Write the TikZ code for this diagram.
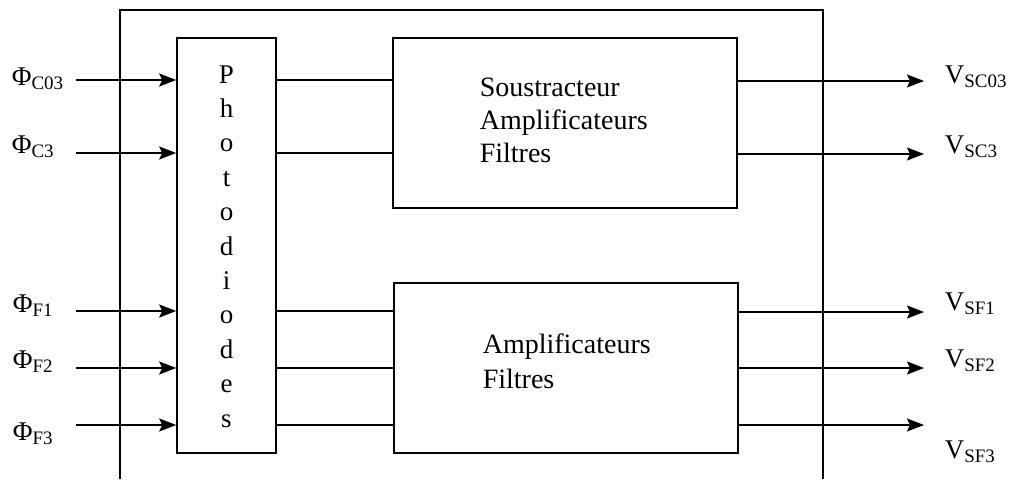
\documentclass[tikz,border=0pt]{standalone}
\usepackage{fontspec}
\setmainfont{Liberation Serif}
\usetikzlibrary{arrows.meta}
\newcommand{\sublbl}[2]{{\fontsize{27}{27}\selectfont #1}\raisebox{-4pt}{\fontsize{19}{19}\selectfont #2}}
\begin{document}
\begin{tikzpicture}[x=1pt,y=-1pt, line width=1.6pt,
  blk/.style={draw, rectangle, inner sep=0pt},
  arr/.style={-{Stealth[length=17pt,width=13pt,inset=3pt]}},
  btxt/.style={font=\fontsize{28}{28}\selectfont, anchor=base west, inner sep=0pt},
  ltr/.style={font=\fontsize{27}{27}\selectfont, anchor=base, inner sep=0pt},
  lab/.style={anchor=base west, inner sep=0pt}]
\useasboundingbox (0,0) rectangle (1014,479);
% outer frame (open at the bottom)
\coordinate (fbl) at (120,479);
\coordinate (ftl) at (120,10);
\coordinate (ftr) at (823,10);
\coordinate (fbr) at (823,479);
\draw (fbl) -- (ftl) -- (ftr) -- (fbr);
% blocks
\node[blk, minimum width=99pt, minimum height=415pt] (pd) at (226.5,245.5) {};
\node[blk, minimum width=344pt, minimum height=170pt] (top) at (565,123) {};
\node[blk, minimum width=344pt, minimum height=170pt] (bot) at (566,368) {};
% photodiodes letters
\foreach \c [count=\i] in {P,h,o,t,o,d,i,o,d,e,s}
  \node[ltr] (pl\i) at (226.5,{83+34.4*(\i-1)}) {\c};
% block texts
\node[btxt] (t1) at (479,96) {Soustracteur};
\node[btxt] (t2) at (479,129) {Amplificateurs};
\node[btxt] (t3) at (479,162) {Filtres};
\node[btxt] (b1) at (482,353) {Amplificateurs};
\node[btxt] (b2) at (482,388) {Filtres};
% inputs
\coordinate (i1) at (76,80);
\coordinate (i2) at (76,153);
\coordinate (i3) at (76,311);
\coordinate (i4) at (76,368);
\coordinate (i5) at (76,425);
\foreach \k in {1,...,5} \draw[arr] (i\k) -- (i\k -| pd.west);
\node[lab] (phi1) at (11,85) {\sublbl{Φ}{C03}};
\node[lab] (phi2) at (11,153) {\sublbl{Φ}{C3}};
\node[lab] (phi3) at (12,312) {\sublbl{Φ}{F1}};
\node[lab] (phi4) at (12,368) {\sublbl{Φ}{F2}};
\node[lab] (phi5) at (12,440) {\sublbl{Φ}{F3}};
% internal links
\draw (i1 -| pd.east) -- (i1 -| top.west);
\draw (i2 -| pd.east) -- (i2 -| top.west);
\draw (i3 -| pd.east) -- (i3 -| bot.west);
\draw (i4 -| pd.east) -- (i4 -| bot.west);
\draw (i5 -| pd.east) -- (i5 -| bot.west);
% outputs
\coordinate (o1) at (924,81);
\coordinate (o2) at (924,154);
\coordinate (o3) at (924,312);
\coordinate (o4) at (924,368);
\coordinate (o5) at (924,425);
\draw[arr] (o1 -| top.east) -- (o1);
\draw[arr] (o2 -| top.east) -- (o2);
\draw[arr] (o3 -| bot.east) -- (o3);
\draw[arr] (o4 -| bot.east) -- (o4);
\draw[arr] (o5 -| bot.east) -- (o5);
\node[lab] (v1) at (944,83) {\sublbl{V}{SC03}};
\node[lab] (v2) at (944,153) {\sublbl{V}{SC3}};
\node[lab] (v3) at (944,310) {\sublbl{V}{SF1}};
\node[lab] (v4) at (944,367) {\sublbl{V}{SF2}};
\node[lab] (v5) at (944,458) {\sublbl{V}{SF3}};
\end{tikzpicture}
\end{document}
